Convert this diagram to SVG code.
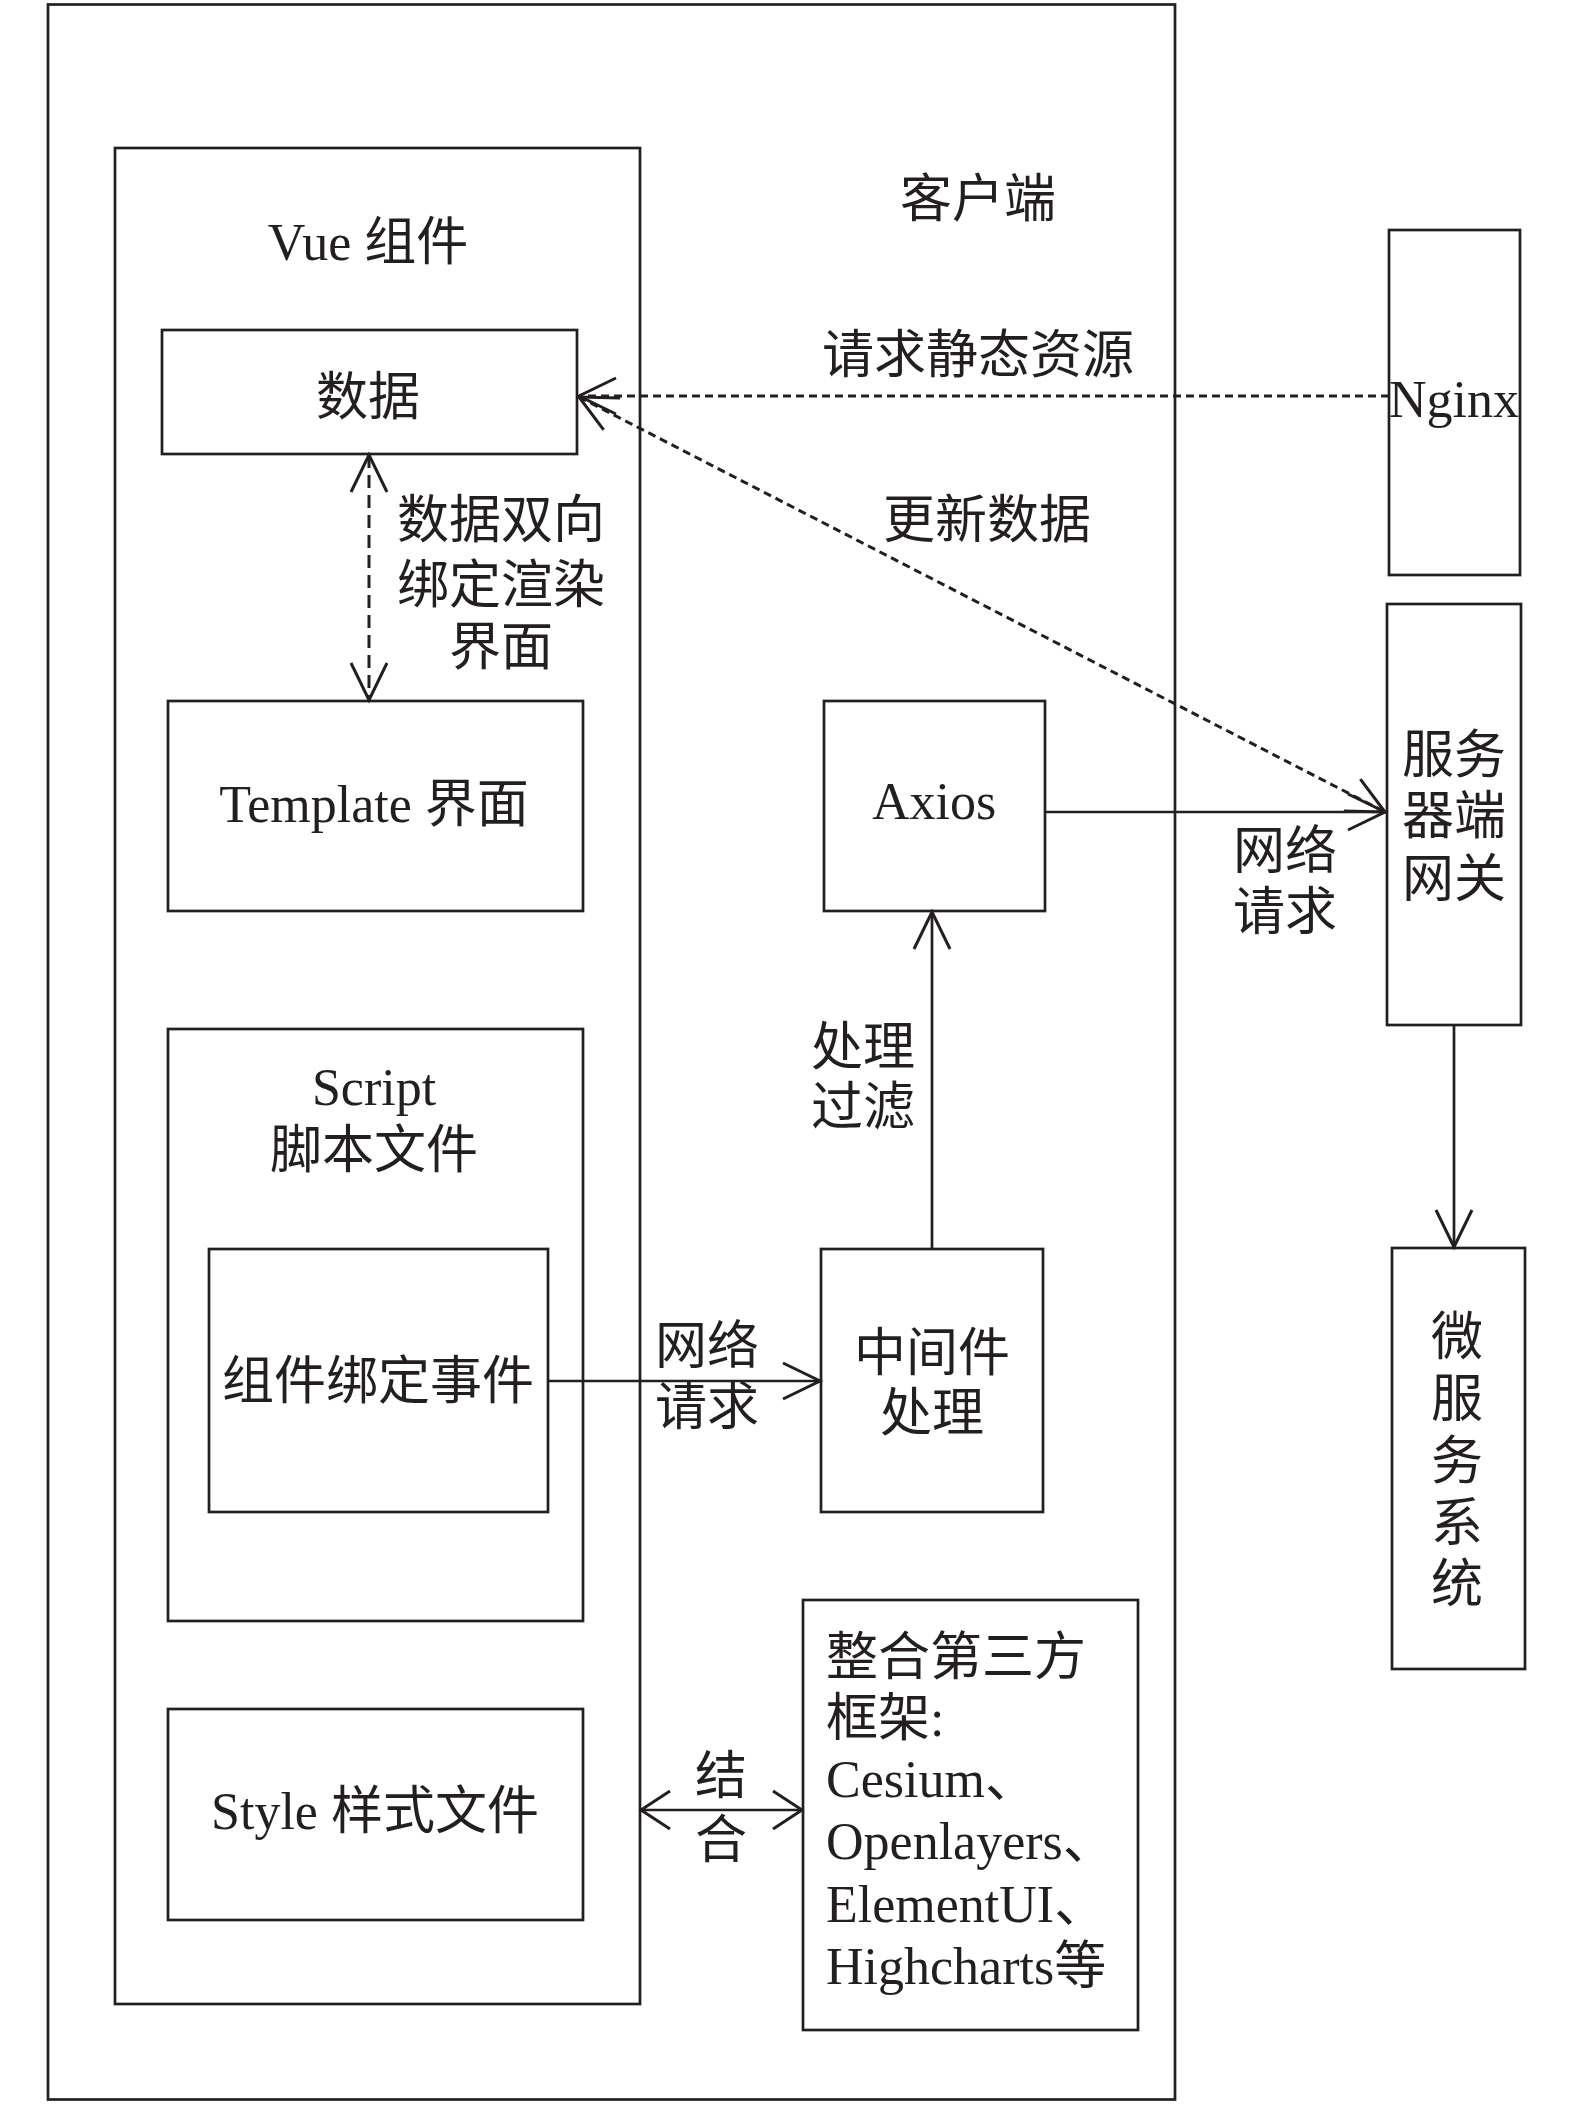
<svg xmlns="http://www.w3.org/2000/svg" width="1575" height="2105" viewBox="0 0 1575 2105">
<style>
.box{fill:none;stroke:#231f20;stroke-width:2.7}
.t{font-family:'Liberation Serif','Noto Sans CJK SC',serif;font-size:52px;fill:#231f20}
.m{text-anchor:middle}
.ln{fill:none;stroke:#231f20;stroke-width:2.7}
.dash{stroke-width:3;stroke-dasharray:8 5}
.dash2{stroke-width:3;stroke-dasharray:13 7}
</style>
<defs>
<marker id="ah" markerUnits="userSpaceOnUse" markerWidth="60" markerHeight="60" viewBox="-50 -30 60 60" refX="0" refY="0" orient="auto-start-reverse" overflow="visible">
<path d="M-37,-18 L0,0 L-37,18" fill="none" stroke="#231f20" stroke-width="3" stroke-dasharray="none"/>
</marker>
<marker id="ah2" markerUnits="userSpaceOnUse" markerWidth="60" markerHeight="60" viewBox="-50 -30 60 60" refX="0" refY="0" orient="auto-start-reverse" overflow="visible">
<path d="M-29,-19 L0,0 L-29,19" fill="none" stroke="#231f20" stroke-width="3" stroke-dasharray="none"/>
</marker>
</defs>
<rect width="1575" height="2105" fill="#fff"/>

<g id="client">
<rect class="box" x="48" y="4.5" width="1127" height="2095"/>
<text class="t m" x="978" y="217">客户端</text>
</g>
<g id="vue">
<rect class="box" x="115" y="148" width="525" height="1856"/>
<text class="t m" x="368" y="260">Vue 组件</text>
</g>
<g id="data">
<rect class="box" x="162" y="330" width="415" height="124"/>
<text class="t m" x="368" y="415">数据</text>
</g>
<g id="template">
<rect class="box" x="168" y="701" width="415" height="210"/>
<text class="t m" x="374" y="822">Template 界面</text>
</g>
<g id="script">
<rect class="box" x="168" y="1029" width="415" height="592"/>
<text class="t m" x="374" y="1105">Script</text>
<text class="t m" x="374" y="1168">脚本文件</text>
</g>
<g id="event">
<rect class="box" x="209" y="1249" width="339" height="263"/>
<text class="t m" x="378" y="1399">组件绑定事件</text>
</g>
<g id="style">
<rect class="box" x="168" y="1709" width="415" height="211"/>
<text class="t m" x="375" y="1829">Style 样式文件</text>
</g>
<g id="axios">
<rect class="box" x="824" y="701" width="221" height="210"/>
<text class="t m" x="934" y="819">Axios</text>
</g>
<g id="middleware">
<rect class="box" x="821" y="1249" width="222" height="263"/>
<text class="t m" x="932" y="1371">中间件</text>
<text class="t m" x="932" y="1431">处理</text>
</g>
<g id="thirdparty">
<rect class="box" x="803" y="1600" width="335" height="430"/>
<text class="t" x="826" y="1675">整合第三方</text>
<text class="t" x="826" y="1736">框架:</text>
<text class="t" x="826" y="1797">Cesium、</text>
<text class="t" x="826" y="1859">Openlayers、</text>
<text class="t" x="826" y="1922">ElementUI、</text>
<text class="t" x="826" y="1984">Highcharts等</text>
</g>
<g id="nginx">
<rect class="box" x="1389" y="230" width="131" height="345"/>
<text class="t m" x="1454" y="417">Nginx</text>
</g>
<g id="gateway">
<rect class="box" x="1387" y="604" width="134" height="421"/>
<text class="t m" x="1454" y="773">服务</text>
<text class="t m" x="1454" y="834">器端</text>
<text class="t m" x="1454" y="897">网关</text>
</g>
<g id="micro">
<rect class="box" x="1392" y="1248" width="133" height="421"/>
<text class="t m" x="1457" y="1355">微</text>
<text class="t m" x="1457" y="1417">服</text>
<text class="t m" x="1457" y="1479">务</text>
<text class="t m" x="1457" y="1541">系</text>
<text class="t m" x="1457" y="1602">统</text>
</g>

<g id="connectors">
<line class="ln dash" x1="1389" y1="396" x2="579" y2="396" marker-end="url(#ah)"/>
<line class="ln dash" x1="579" y1="397" x2="1385" y2="812" marker-start="url(#ah)" marker-end="url(#ah)"/>
<line class="ln dash2" x1="369" y1="455" x2="369" y2="700" marker-start="url(#ah)" marker-end="url(#ah)"/>
<line class="ln" x1="1045" y1="812" x2="1385" y2="812" marker-end="url(#ah)"/>
<line class="ln" x1="932" y1="1249" x2="932" y2="912" marker-end="url(#ah)"/>
<line class="ln" x1="548" y1="1381" x2="820" y2="1381" marker-end="url(#ah)"/>
<line class="ln" x1="1454" y1="1025" x2="1454" y2="1247" marker-end="url(#ah)"/>
<line class="ln" x1="641" y1="1810" x2="802" y2="1810" marker-start="url(#ah2)" marker-end="url(#ah2)"/>
<text class="t m" x="978" y="373">请求静态资源</text>
<text class="t m" x="987" y="538">更新数据</text>
<text class="t m" x="501" y="538">数据双向</text>
<text class="t m" x="501" y="603">绑定渲染</text>
<text class="t m" x="501" y="665">界面</text>
<text class="t m" x="1285" y="869">网络</text>
<text class="t m" x="1285" y="930">请求</text>
<text class="t m" x="863" y="1065">处理</text>
<text class="t m" x="863" y="1125">过滤</text>
<text class="t m" x="707" y="1364">网络</text>
<text class="t m" x="707" y="1425">请求</text>
<text class="t m" x="721" y="1794">结</text>
<text class="t m" x="721" y="1858">合</text>
</g>
</svg>
